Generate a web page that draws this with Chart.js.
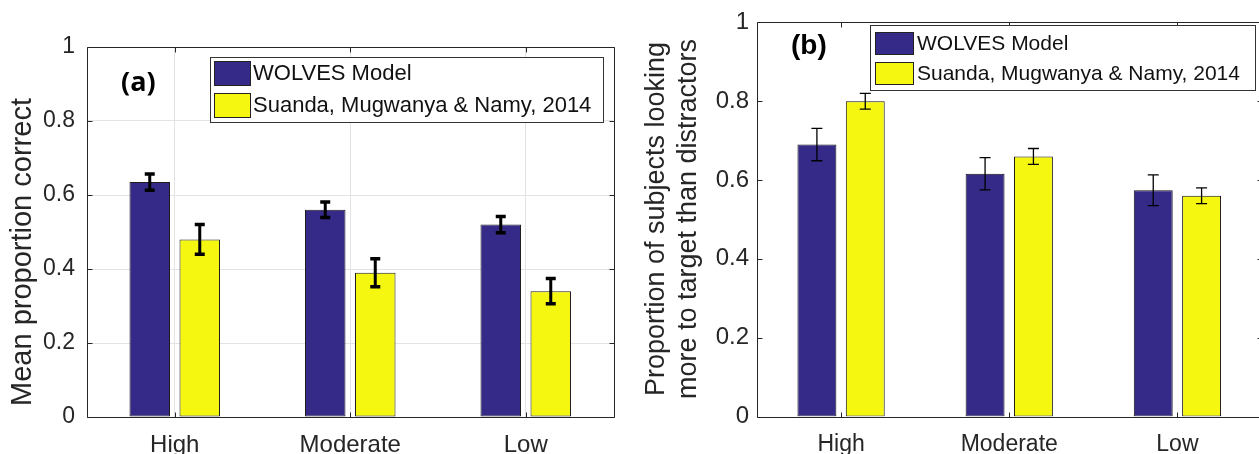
<!DOCTYPE html>
<html>
<head>
<meta charset="utf-8">
<script src="https://cdn.jsdelivr.net/npm/chart.js@4.4.1/dist/chart.umd.min.js"></script>
<style>
  html, body { margin: 0; padding: 0; background: #fff; overflow: hidden; }
  #wrap { position: relative; width: 1259px; height: 454px; overflow: hidden; }
  canvas { position: absolute; top: 0; }
  #chartA { left: 0; }
  #chartB { left: 628px; }
</style>
</head>
<body>
<div id="wrap">
  <canvas id="chartA" width="628" height="454"></canvas>
  <canvas id="chartB" width="645" height="454"></canvas>
</div>
<script>
const categories = ["High", "Moderate", "Low"];
const seriesNames = ["WOLVES Model", "Suanda, Mugwanya & Namy, 2014"];

// (a) mean proportion correct
const modelCorrect = [0.635, 0.56, 0.52];
const modelCorrectErr = [0.022, 0.021, 0.022];
const studyCorrect = [0.48, 0.39, 0.34];
const studyCorrectErr = [0.04, 0.038, 0.034];

// (b) proportion of subjects looking more to target
const modelLooking = [0.69, 0.616, 0.574];
const modelLookingErr = [0.041, 0.041, 0.039];
const studyLooking = [0.80, 0.66, 0.56];
const studyLookingErr = [0.02, 0.02, 0.02];

const yTicks = [0, 0.2, 0.4, 0.6, 0.8, 1];

const BLUE = "#352a87";
const YELLOW = "#f6f710";
const INK = "#262626";
const SANS = "'Liberation Sans', Arial, sans-serif";

// frame with inward ticks, error bars, legend box and labels
const matlabAxes = {
  id: "matlabAxes",
  afterDatasetsDraw(chart, args, o) {
    const { ctx, chartArea: a, scales: { x, y } } = chart;
    ctx.save();
    ctx.strokeStyle = "#000";
    chart.data.datasets.forEach((ds, i) => {
      chart.getDatasetMeta(i).data.forEach((bar, j) => {
        const hi = y.getPixelForValue(ds.data[j] + ds.errors[j]);
        const lo = y.getPixelForValue(ds.data[j] - ds.errors[j]);
        ctx.lineWidth = o.errWidth;
        ctx.beginPath();
        ctx.moveTo(bar.x, hi); ctx.lineTo(bar.x, lo);
        ctx.stroke();
        ctx.lineWidth = o.capWidth;
        ctx.beginPath();
        ctx.moveTo(bar.x - o.capHalf, hi); ctx.lineTo(bar.x + o.capHalf, hi);
        ctx.moveTo(bar.x - o.capHalf, lo); ctx.lineTo(bar.x + o.capHalf, lo);
        ctx.stroke();
      });
    });

    ctx.strokeStyle = INK;
    ctx.lineWidth = 1;
    const L = Math.round(a.left) + 0.5, R = Math.round(a.right) + 0.5;
    const T = Math.round(a.top) + 0.5, B = Math.round(a.bottom) + 0.5;
    ctx.beginPath();
    ctx.moveTo(L, T); ctx.lineTo(R, T); ctx.lineTo(R, B); ctx.lineTo(L, B); ctx.closePath();
    yTicks.forEach(v => {
      const py = Math.round(y.getPixelForValue(v)) + 0.5;
      ctx.moveTo(L, py); ctx.lineTo(L + 5, py);
      ctx.moveTo(R, py); ctx.lineTo(R - 5, py);
    });
    categories.forEach((c, j) => {
      const px = Math.round(x.getPixelForValue(j)) + 0.5;
      ctx.moveTo(px, B); ctx.lineTo(px, B - 5);
      ctx.moveTo(px, T); ctx.lineTo(px, T + 5);
    });
    ctx.stroke();
    ctx.restore();
  },
  afterDraw(chart, args, o) {
    const { ctx } = chart;
    const lg = o.legend;
    ctx.save();
    // legend
    ctx.fillStyle = "#fff";
    ctx.fillRect(lg.left, lg.top, lg.right - lg.left, lg.bottom - lg.top);
    ctx.strokeStyle = "#333";
    ctx.lineWidth = 1;
    ctx.strokeRect(lg.left + 0.5, lg.top + 0.5, lg.right - lg.left, lg.bottom - lg.top);
    ctx.font = lg.font;
    ctx.textBaseline = "middle";
    ctx.textAlign = "left";
    chart.data.datasets.forEach((ds, i) => {
      const top = lg.rowTop + i * lg.rowPitch;
      ctx.fillStyle = ds.backgroundColor;
      ctx.fillRect(lg.swatchX, top, lg.swatchW, lg.swatchH);
      ctx.strokeStyle = "#222";
      ctx.strokeRect(lg.swatchX + 0.5, top + 0.5, lg.swatchW, lg.swatchH);
      ctx.fillStyle = "#111";
      ctx.fillText(ds.label, lg.textX, top + lg.swatchH / 2 + 1);
    });

    // panel tag
    ctx.fillStyle = "#000";
    ctx.font = o.tag.font;
    ctx.fillText(o.tag.text, o.tag.x, o.tag.y);

    // y-axis title
    ctx.fillStyle = INK;
    ctx.font = o.yTitle.font;
    ctx.textAlign = "center";
    ctx.textBaseline = "alphabetic";
    o.yTitle.lines.forEach((line, i) => {
      ctx.save();
      ctx.translate(o.yTitle.baseX[i], o.yTitle.centerY);
      ctx.rotate(-Math.PI / 2);
      ctx.fillText(line, 0, 0);
      ctx.restore();
    });
    ctx.restore();
  }
};

function makePanel(id, p) {
  return new Chart(document.getElementById(id), {
    type: "bar",
    data: {
      labels: categories,
      datasets: [
        { label: seriesNames[0], data: p.model, errors: p.modelErr, backgroundColor: BLUE,
          borderColor: p.edge, borderWidth: 1, borderSkipped: false,
          categoryPercentage: p.catPct, barPercentage: p.barPct },
        { label: seriesNames[1], data: p.study, errors: p.studyErr, backgroundColor: YELLOW,
          borderColor: p.edge, borderWidth: 1, borderSkipped: false,
          categoryPercentage: p.catPct, barPercentage: p.barPct }
      ]
    },
    options: {
      responsive: false,
      animation: false,
      layout: { padding: { left: 0, top: p.top, right: p.right, bottom: 0 } },
      scales: {
        x: {
          offset: true,
          grid: { display: p.grid, offset: false, color: "#e3e3e3", drawTicks: false },
          border: { display: false },
          ticks: { color: INK, font: { family: SANS, size: p.xFont }, padding: p.xPad, maxRotation: 0, autoSkip: false },
          afterFit(s) { s.height = p.xHeight; }
        },
        y: {
          min: 0, max: 1,
          afterBuildTicks(s) { s.ticks = yTicks.map(v => ({ value: v })); },
          grid: { display: p.grid, color: "#e3e3e3", drawTicks: false },
          border: { display: false },
          ticks: {
            color: INK, font: { family: SANS, size: p.yFont }, padding: p.yPad,
            callback: v => String(Math.round(v * 10) / 10)
          },
          afterFit(s) { s.width = p.yWidth; }
        }
      },
      plugins: {
        legend: { display: false },
        tooltip: { enabled: false },
        matlabAxes: p.deco
      }
    },
    plugins: [matlabAxes]
  });
}

makePanel("chartA", {
  model: modelCorrect, modelErr: modelCorrectErr,
  study: studyCorrect, studyErr: studyCorrectErr,
  edge: "#1e1e1e", catPct: 0.57, barPct: 0.81,
  top: 47, right: 14.5, xHeight: 37, yWidth: 87,
  grid: true, xFont: 24, xPad: 14, yFont: 23, yPad: 12,
  deco: {
    errWidth: 3, capWidth: 3.5, capHalf: 5,
    legend: { left: 210, top: 57, right: 603, bottom: 122, rowTop: 61, rowPitch: 32,
              swatchX: 214, swatchW: 36, swatchH: 24, textX: 253,
              font: "22px " + SANS },
    tag: { text: "(a)", x: 121, y: 83, font: "bold 27px 'Open Sans', sans-serif" },
    yTitle: { lines: ["Mean proportion correct"], baseX: [31], centerY: 252, font: "29px " + SANS }
  }
});

makePanel("chartB", {
  model: modelLooking, modelErr: modelLookingErr,
  study: studyLooking, studyErr: studyLookingErr,
  edge: "#111", catPct: 0.575, barPct: 0.805,
  top: 20.5, right: 11.5, xHeight: 37.5, yWidth: 129,
  grid: false, xFont: 23, xPad: 14, yFont: 24, yPad: 8,
  deco: {
    errWidth: 1.3, capWidth: 1.3, capHalf: 5.5,
    legend: { left: 242, top: 25, right: 627, bottom: 90, rowTop: 32, rowPitch: 30,
              swatchX: 247, swatchW: 38, swatchH: 22, textX: 289,
              font: "21px " + SANS },
    tag: { text: "(b)", x: 163, y: 46, font: "bold 28px " + SANS },
    yTitle: { lines: ["Proportion of subjects looking", "more to target than distractors"],
              baseX: [36, 68], centerY: 219, font: "27px " + SANS }
  }
});
</script>
</body>
</html>
